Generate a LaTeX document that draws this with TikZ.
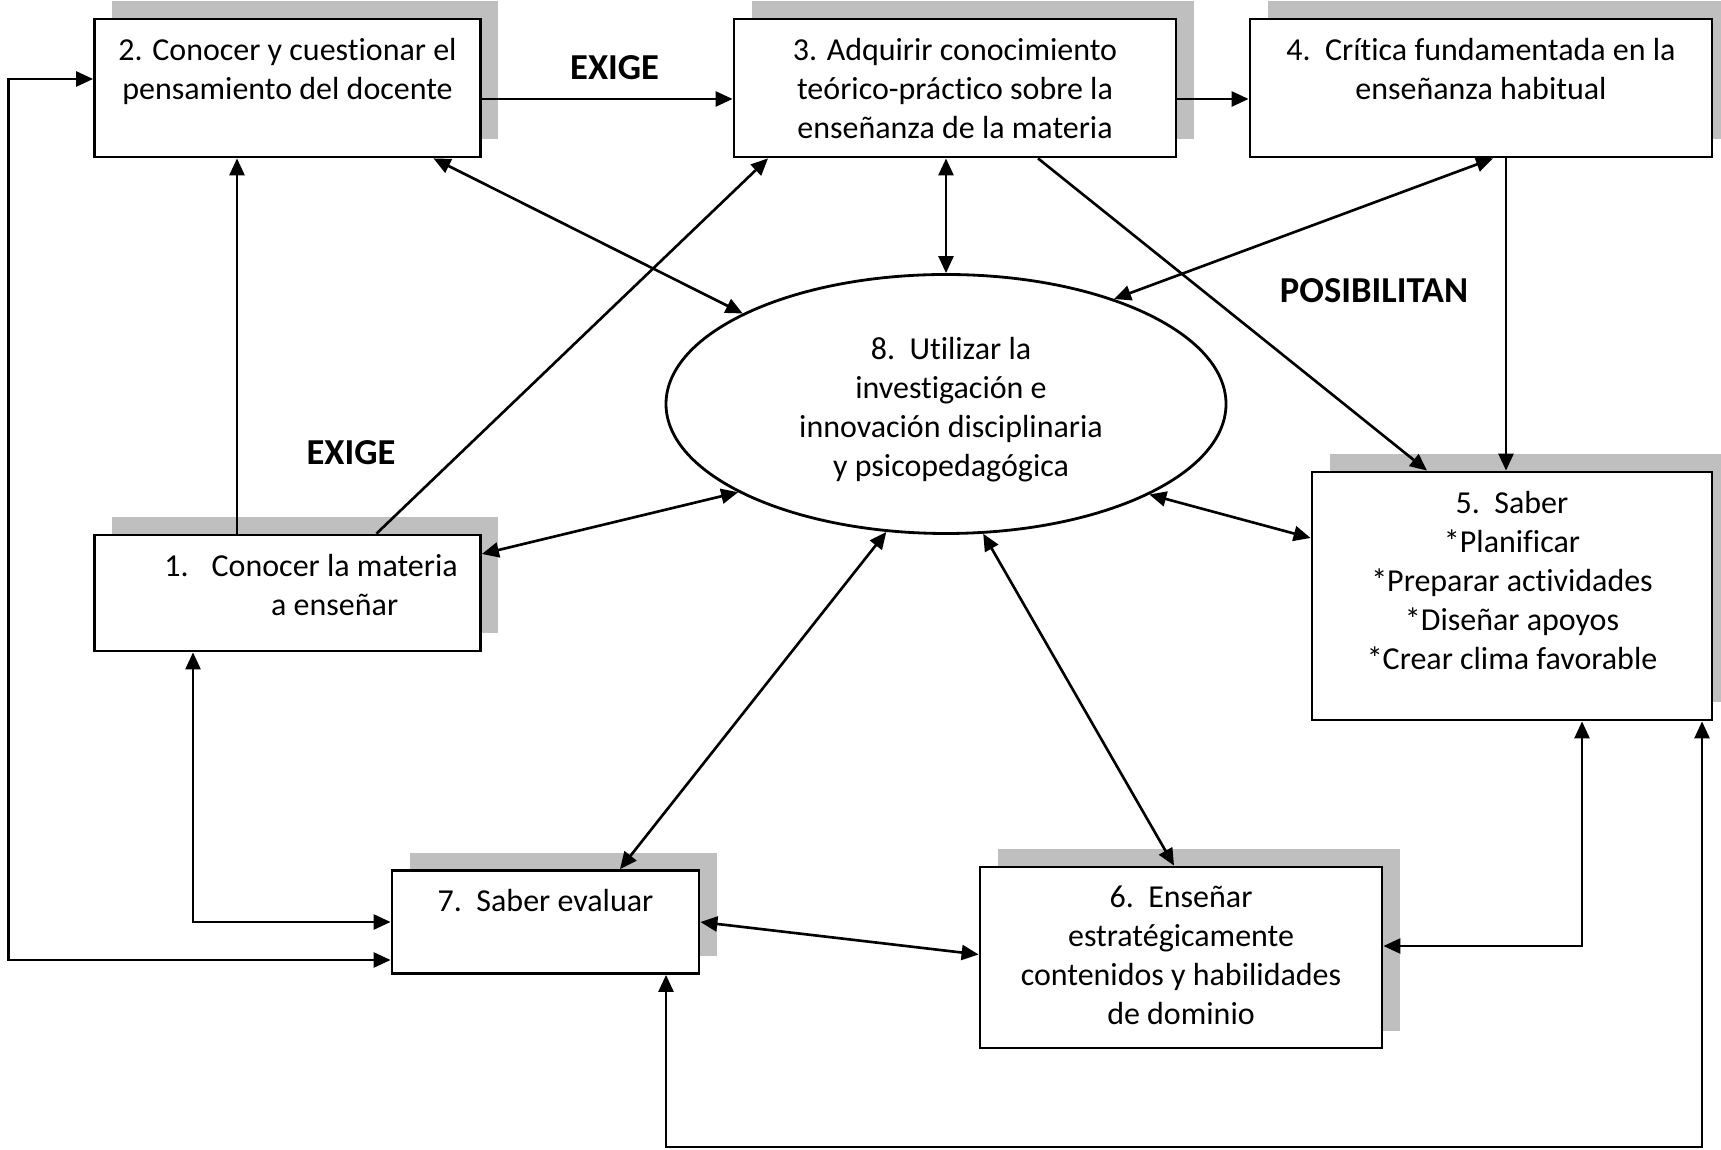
\documentclass[tikz,border=0pt]{standalone}
\usepackage{fontspec}
\setmainfont{Carlito}[Ligatures=NoCommon]
\usetikzlibrary{positioning,shapes.geometric,shadows,arrows.meta}
\definecolor{sombra}{RGB}{191,191,191}

\begin{document}
\begin{tikzpicture}[font=\fontsize{9.1}{11.1}\selectfont,
    >={Triangle[length=1.7mm,width=1.5mm]}, line width=0.75pt,
    caja/.style={draw,line width=0.8pt,fill=white,inner sep=0pt,
      drop shadow={shadow xshift=0.175cm,shadow yshift=0.175cm,fill=sombra,opacity=1}},
    texto/.style={align=center,inner sep=0pt},
    elipse/.style={draw,ellipse,line width=0.8pt,inner sep=0pt,
      minimum width=5.6cm,minimum height=2.59cm},
    etiqueta/.style={font=\fontsize{10.4}{12}\selectfont\bfseries}]
\useasboundingbox (0,0) rectangle (17.21,11.49);
\coordinate (izq) at (0.088,0); % lazo izquierdo
\coordinate (abajo) at (0,0.02); % lazo inferior

% cajas
\node[caja,minimum width=3.86cm,minimum height=1.38cm] (c2) at (2.875,10.61) {};
\node[caja,minimum width=4.42cm,minimum height=1.38cm] (c3) at (9.55,10.61) {};
\node[caja,minimum width=4.62cm,minimum height=1.38cm] (c4) at (14.81,10.61) {};
\node[caja,minimum width=3.86cm,minimum height=1.16cm] (c1) at (2.875,5.56) {};
\node[caja,minimum width=4.00cm,minimum height=2.48cm] (c5) at (15.12,5.53) {};
\node[caja,minimum width=3.07cm,minimum height=1.03cm] (c7) at (5.455,2.27) {};
\node[caja,minimum width=4.02cm,minimum height=1.81cm] (c6) at (11.81,1.915) {};
\node[elipse] (e8) at (9.46,7.45) {};

% textos
\node[texto,below=0.19cm of c2.north] (t2) {2. Conocer y cuestionar el\\pensamiento del docente};
\node[texto,below=0.19cm of c3.north] (t3) {3. Adquirir conocimiento\\teórico-práctico sobre la\\enseñanza de la materia};
\node[texto,below=0.19cm of c4.north] (t4) {4.\ \ Crítica fundamentada en la\\enseñanza habitual};
\node[texto,below right=0.14cm and 0.70cm of c1.north west] (t1)
  {\begin{tabular}{@{}l@{\hspace{0.23cm}}c@{}}1. & Conocer la materia\\ & a enseñar\end{tabular}};
\node[texto,below=0.19cm of c5.north] (t5) {5.\ \ Saber\\*Planificar\\*Preparar actividades\\*Diseñar apoyos\\*Crear clima favorable};
\node[texto,below=0.19cm of c7.north] (t7) {7.\ \ Saber evaluar};
\node[texto,below=0.19cm of c6.north] (t6) {6.\ \ Enseñar\\estratégicamente\\contenidos y habilidades\\de dominio};
\node[texto] (t8) at ([xshift=0.05cm,yshift=-0.06cm]e8.center)
  {8.\ \ Utilizar la\\investigación e\\innovación disciplinaria\\y psicopedagógica};

% etiquetas
\node[etiqueta] (ex1) at (6.146,10.81) {EXIGE};
\node[etiqueta] (ex2) at (3.51,6.96) {EXIGE};
\node[etiqueta] (pos) at (13.74,8.58) {POSIBILITAN};

% puntos de apoyo
\coordinate (a7) at ([yshift=-0.38cm]c7.west);
\coordinate (a2) at ([yshift=0.09cm]c2.west);
\coordinate (a1) at ([xshift=-0.945cm]c1.south);
\coordinate (a6) at ([yshift=0.115cm]c6.east);
\coordinate (a5) at ([xshift=0.70cm]c5.south);
\coordinate (b7) at ([xshift=1.205cm]c7.south);
\coordinate (b5) at ([xshift=1.90cm]c5.south);
\coordinate (d4) at ([xshift=0.25cm]c4.south);

% flechas
\draw[<->] (a7) -- (a7 -| izq) |- (a2); % 7 - 2
\draw[->] ([yshift=-0.11cm]c2.east) -- ([yshift=-0.11cm]c3.west); % 2 -> 3
\draw[->] ([yshift=-0.11cm]c3.east) -- ([yshift=-0.11cm]c4.west); % 3 -> 4
\draw[->] ([xshift=-0.505cm]c1.north) -- ([xshift=-0.505cm]c2.south); % 1 -> 2
\draw[->] ([xshift=0.89cm]c1.north) -- ([xshift=-1.87cm]c3.south); % 1 -> 3
\draw[<->] ([xshift=1.46cm]c2.south) -- (e8.156); % 2 - 8
\draw[<->] (e8.north) -- (e8.north |- c3.south); % 3 - 8
\draw[->] ([xshift=0.83cm]c3.south) -- ([xshift=-0.85cm]c5.north); % 3 -> 5
\draw[<->] ([xshift=0.12cm]c4.south) -- (e8.32); % 4 - 8
\draw[->] (d4) -- (d4 |- c5.north); % 4 -> 5
\draw[<->] (e8.203) -- ([yshift=0.39cm]c1.east); % 8 - 1
\draw[<->] (e8.336) -- ([yshift=0.58cm]c5.west); % 8 - 5
\draw[<->] (e8.245) -- ([xshift=0.745cm]c7.north); % 8 - 7
\draw[<->] (e8.286) -- ([xshift=-0.07cm]c6.north); % 8 - 6
\draw[<->] (a1) |- (c7.west); % 1 - 7
\draw[<->] (c7.east) -- ([yshift=0.03cm]c6.west); % 7 - 6
\draw[<->] (a6) -| (a5); % 6 - 5
\draw[<->] (b7) -- (b7 |- abajo) -| (b5); % 7 - 5
\end{tikzpicture}
\end{document}
